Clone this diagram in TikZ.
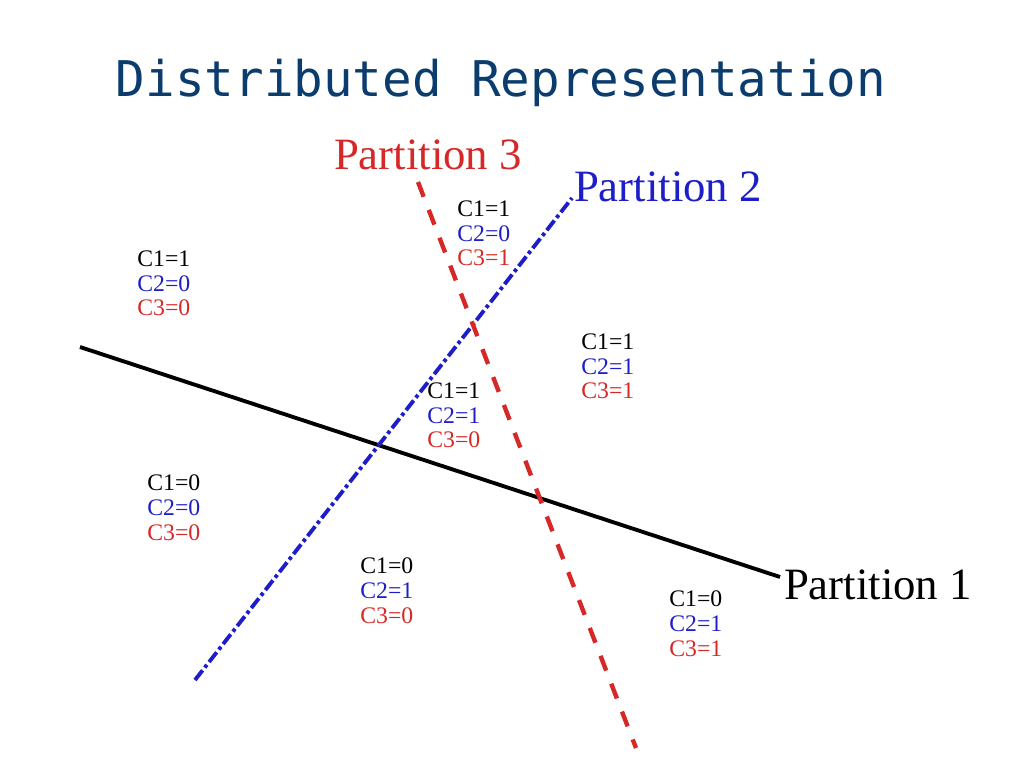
\documentclass[tikz,border=0pt]{standalone}
\usepackage{fontspec}
\setmainfont{Liberation Serif}
\newfontfamily\titlefont{DejaVu Sans Mono}
\definecolor{ttl}{RGB}{10,60,110}
\definecolor{pb}{RGB}{30,30,200}
\definecolor{pr}{RGB}{215,40,40}
\begin{document}
\begin{tikzpicture}[x=0.02cm,y=-0.02cm,
  lbl/.style={font=\fontsize{13.5}{14.2}\selectfont,anchor=north west,align=left,inner sep=0pt},
  plbl/.style={font=\fontsize{25.5}{28}\selectfont,inner sep=0pt}]
\useasboundingbox (0,0) rectangle (1024,768);
\node[font=\titlefont\fontsize{28}{32}\selectfont,text=ttl] (title) at (501,83) {Distributed Representation};
\coordinate (a1) at (80,347); \coordinate (b1) at (780,577);
\coordinate (a2) at (195,680); \coordinate (b2) at (572,198);
\coordinate (a3) at (418,182); \coordinate (b3) at (636,748);
\draw[line width=2.2pt] (a1) -- (b1);
\draw[pb,line width=2.2pt,dash pattern=on 7pt off 2pt on 2pt off 2pt] (a2) -- (b2);
\draw[pr,line width=2.5pt,dash pattern=on 9pt off 8pt] (a3) -- (b3);
\node[plbl,text=pr] (p3) at (428,155) {Partition 3};
\node[plbl,text=pb] (p2) at (668,187) {Partition 2};
\node[plbl] (p1) at (878,585) {Partition 1};
\newcommand\grp[5]{\node[lbl] (#1) at (#2) {C1=#3\\\textcolor{pb}{C2=#4}\\\textcolor{pr}{C3=#5}};}
\grp{g1}{137,250}{1}{0}{0}
\grp{g2}{457,200}{1}{0}{1}
\grp{g3}{581,333}{1}{1}{1}
\grp{g4}{427,382}{1}{1}{0}
\grp{g5}{147,474}{0}{0}{0}
\grp{g6}{360,557}{0}{1}{0}
\grp{g7}{669,590}{0}{1}{1}
\end{tikzpicture}
\end{document}
